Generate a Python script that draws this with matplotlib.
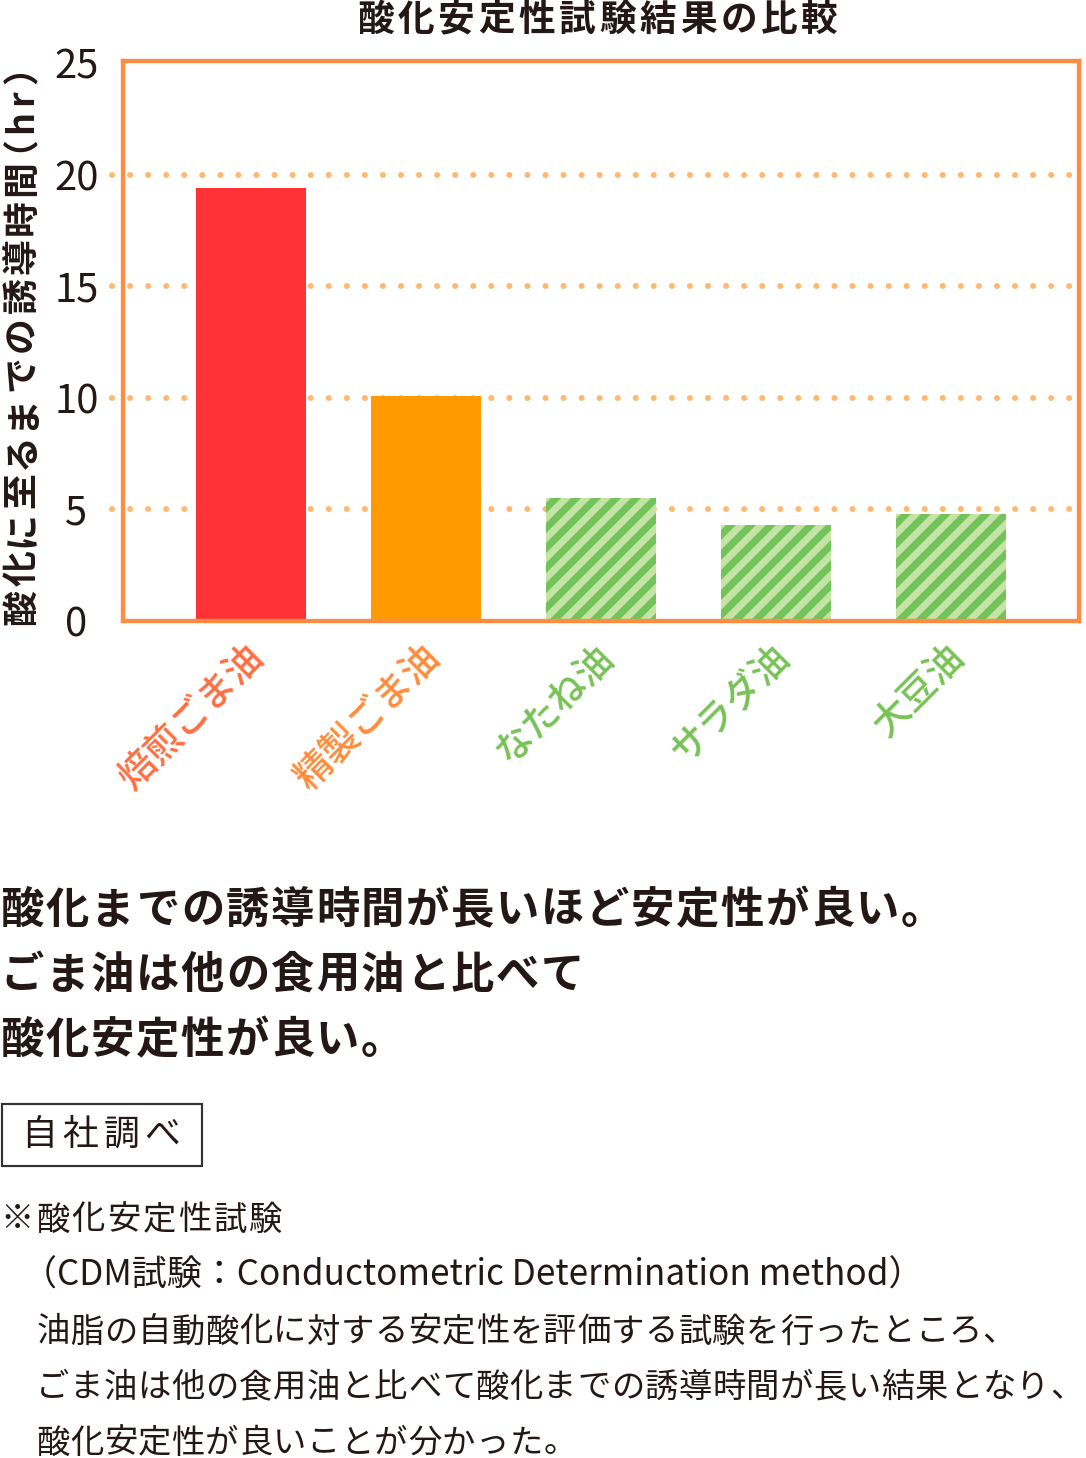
import matplotlib
matplotlib.use("Agg")
import matplotlib.pyplot as plt
from matplotlib.patches import Rectangle
from matplotlib.lines import Line2D
from matplotlib.transforms import IdentityTransform
from matplotlib.textpath import TextPath
from matplotlib.font_manager import FontProperties

plt.rcParams['font.family'] = ['Noto Sans CJK JP', 'DejaVu Sans']

# data
oils = ["焙煎ごま油", "精製ごま油", "なたね油", "サラダ油", "大豆油"]
hours = [19.4, 10.1, 5.5, 4.3, 4.8]
y_ticks = [0, 5, 10, 15, 20, 25]

bar_colors = ["#FF3336", "#FF9A00", "#C5E3A6", "#C5E3A6", "#C5E3A6"]
striped = [False, False, True, True, True]
label_colors = ["#FF6E40", "#FF8C3A", "#78C257", "#78C257", "#78C257"]

title = "酸化安定性試験結果の比較"
y_label_main = "酸化に至るまでの誘導時間"
y_label_unit = "（hr）"
summary_lines = [
    "酸化までの誘導時間が長いほど安定性が良い。",
    "ごま油は他の食用油と比べて",
    "酸化安定性が良い。",
]
source_label = "自社調べ"
note_head = "※酸化安定性試験"
note_method = "（CDM試験：Conductometric Determination method）"
note_body = [
    "油脂の自動酸化に対する安定性を評価する試験を行ったところ、",
    "ごま油は他の食用油と比べて酸化までの誘導時間が長い結果となり、",
    "酸化安定性が良いことが分かった。",
]

W, H = 1086, 1458
DPI = 120
fig = plt.figure(figsize=(W / DPI, H / DPI), dpi=DPI)
fig.patch.set_facecolor("white")


def fx(px):
    return px / W


def fy(py):
    return 1 - py / H


def spaced_text(x0, y, s, size, pitch, **kw):
    # draw full-width text one glyph per cell, to get the wide tracking
    for j, ch in enumerate(s):
        fig.text(fx(x0 + j * pitch + pitch / 2), fy(y), ch, ha="center",
                 va="center", fontsize=size, **kw)


def spaced_vtext(x, y0, s, size, pitch, **kw):
    # same thing, reading bottom to top
    for j, ch in enumerate(s):
        fig.text(fx(x), fy(y0 - j * pitch - pitch / 2), ch, rotation=90,
                 ha="center", va="center", fontsize=size, **kw)


ax = fig.add_axes([fx(123), fy(621), fx(1079) - fx(123), fy(61) - fy(621)])

orange = "#FF8C42"
grid_col = "#FFB870"
text_col = "#231815"
stripe_col = "#72C45A"

ax.set_xlim(-0.73, 4.73)
ax.set_ylim(0, 25.1)

bars = ax.bar(range(len(oils)), hours, width=0.63, color=bar_colors,
              linewidth=0, zorder=3)

# diagonal stripes on the other oils (45 deg in pixel space)
for b, st in zip(bars, striped):
    if not st:
        continue
    (x0, y0), (x1, y1) = ax.transData.transform(
        [(b.get_x(), 0), (b.get_x() + b.get_width(), b.get_height())])
    h = y1 - y0
    c = x0 - h - 20
    while c < x1 + 20:
        ln = Line2D([c, c + h + 20], [y0 - 10, y1 + 10], color=stripe_col,
                    linewidth=4.3, solid_capstyle="butt",
                    transform=IdentityTransform(), zorder=3.5)
        ax.add_line(ln)
        ln.set_clip_path(b)
        c += 20

# dotted grid lines, running a bit past the left spine
for t in y_ticks[1:-1]:
    ax.axhline(t, xmin=-0.012, xmax=0.992, color=grid_col, linewidth=3.6,
               linestyle=(0, (0.01, 3)), dash_capstyle="round",
               clip_on=False, zorder=1)

for s in ax.spines.values():
    s.set_color(orange)
    s.set_linewidth(2.6)
    s.set_zorder(4)

ax.set_yticks(y_ticks)
ax.set_yticklabels([str(t) for t in y_ticks], fontsize=24, color=text_col)
for lbl in ax.get_yticklabels():
    lbl.set_horizontalalignment("center")
ax.tick_params(axis="y", length=0, pad=28)
ax.set_xticks([])

for i, name in enumerate(oils):
    ax.text(i + 0.12, -0.03, name, transform=ax.get_xaxis_transform(),
            rotation=45, ha="right", va="top", fontsize=22.5,
            fontweight="medium", color=label_colors[i])

spaced_text(355, 20, title, 22, 40.4, fontweight="bold", color=text_col)

spaced_vtext(22, 627, y_label_main, 21.5, 39, fontweight="bold",
             color=text_col)

# unit part: place each glyph by its ink extent (measured with TextPath).
# Agg shifts rotated glyphs by their left bearing along x, so undo that.
unit_size = 21.5
unit_fp = FontProperties(family="Noto Sans CJK JP", weight="bold",
                         size=unit_size)
unit_centres = [147, 124, 99, 79]
px_per_pt = DPI / 72
for ch, yc in zip(y_label_unit, unit_centres):
    ext = TextPath((0, 0), ch, prop=unit_fp).get_extents()
    u0 = ext.x0 * px_per_pt
    u1 = ext.x1 * px_per_pt
    fig.text(fx(35 - u0), fy(yc + (u1 - u0) / 2), ch, rotation=90,
             rotation_mode="anchor", ha="left", va="baseline",
             fontproperties=unit_fp, color=text_col)

for k, line in enumerate(summary_lines):
    spaced_text(0, 910 + 65 * k, line, 26, 45, fontweight="bold",
                color=text_col)

fig.patches.append(Rectangle((fx(2), fy(1166)), fx(202) - fx(2),
                             fy(1104) - fy(1166), transform=fig.transFigure,
                             fill=False, edgecolor="#333333", linewidth=1.3))
spaced_text(19, 1135, source_label, 21.5, 41, color=text_col)

spaced_text(-1, 1220, note_head, 20, 35.6, color=text_col)
fig.text(fx(22), fy(1276), note_method, ha="left", va="center",
         fontsize=21, color=text_col)
for k, line in enumerate(note_body):
    spaced_text(36, 1332 + 55.5 * k, line, 20, 33.8, color=text_col)

fig.savefig("out.png", dpi=DPI, facecolor="white")
